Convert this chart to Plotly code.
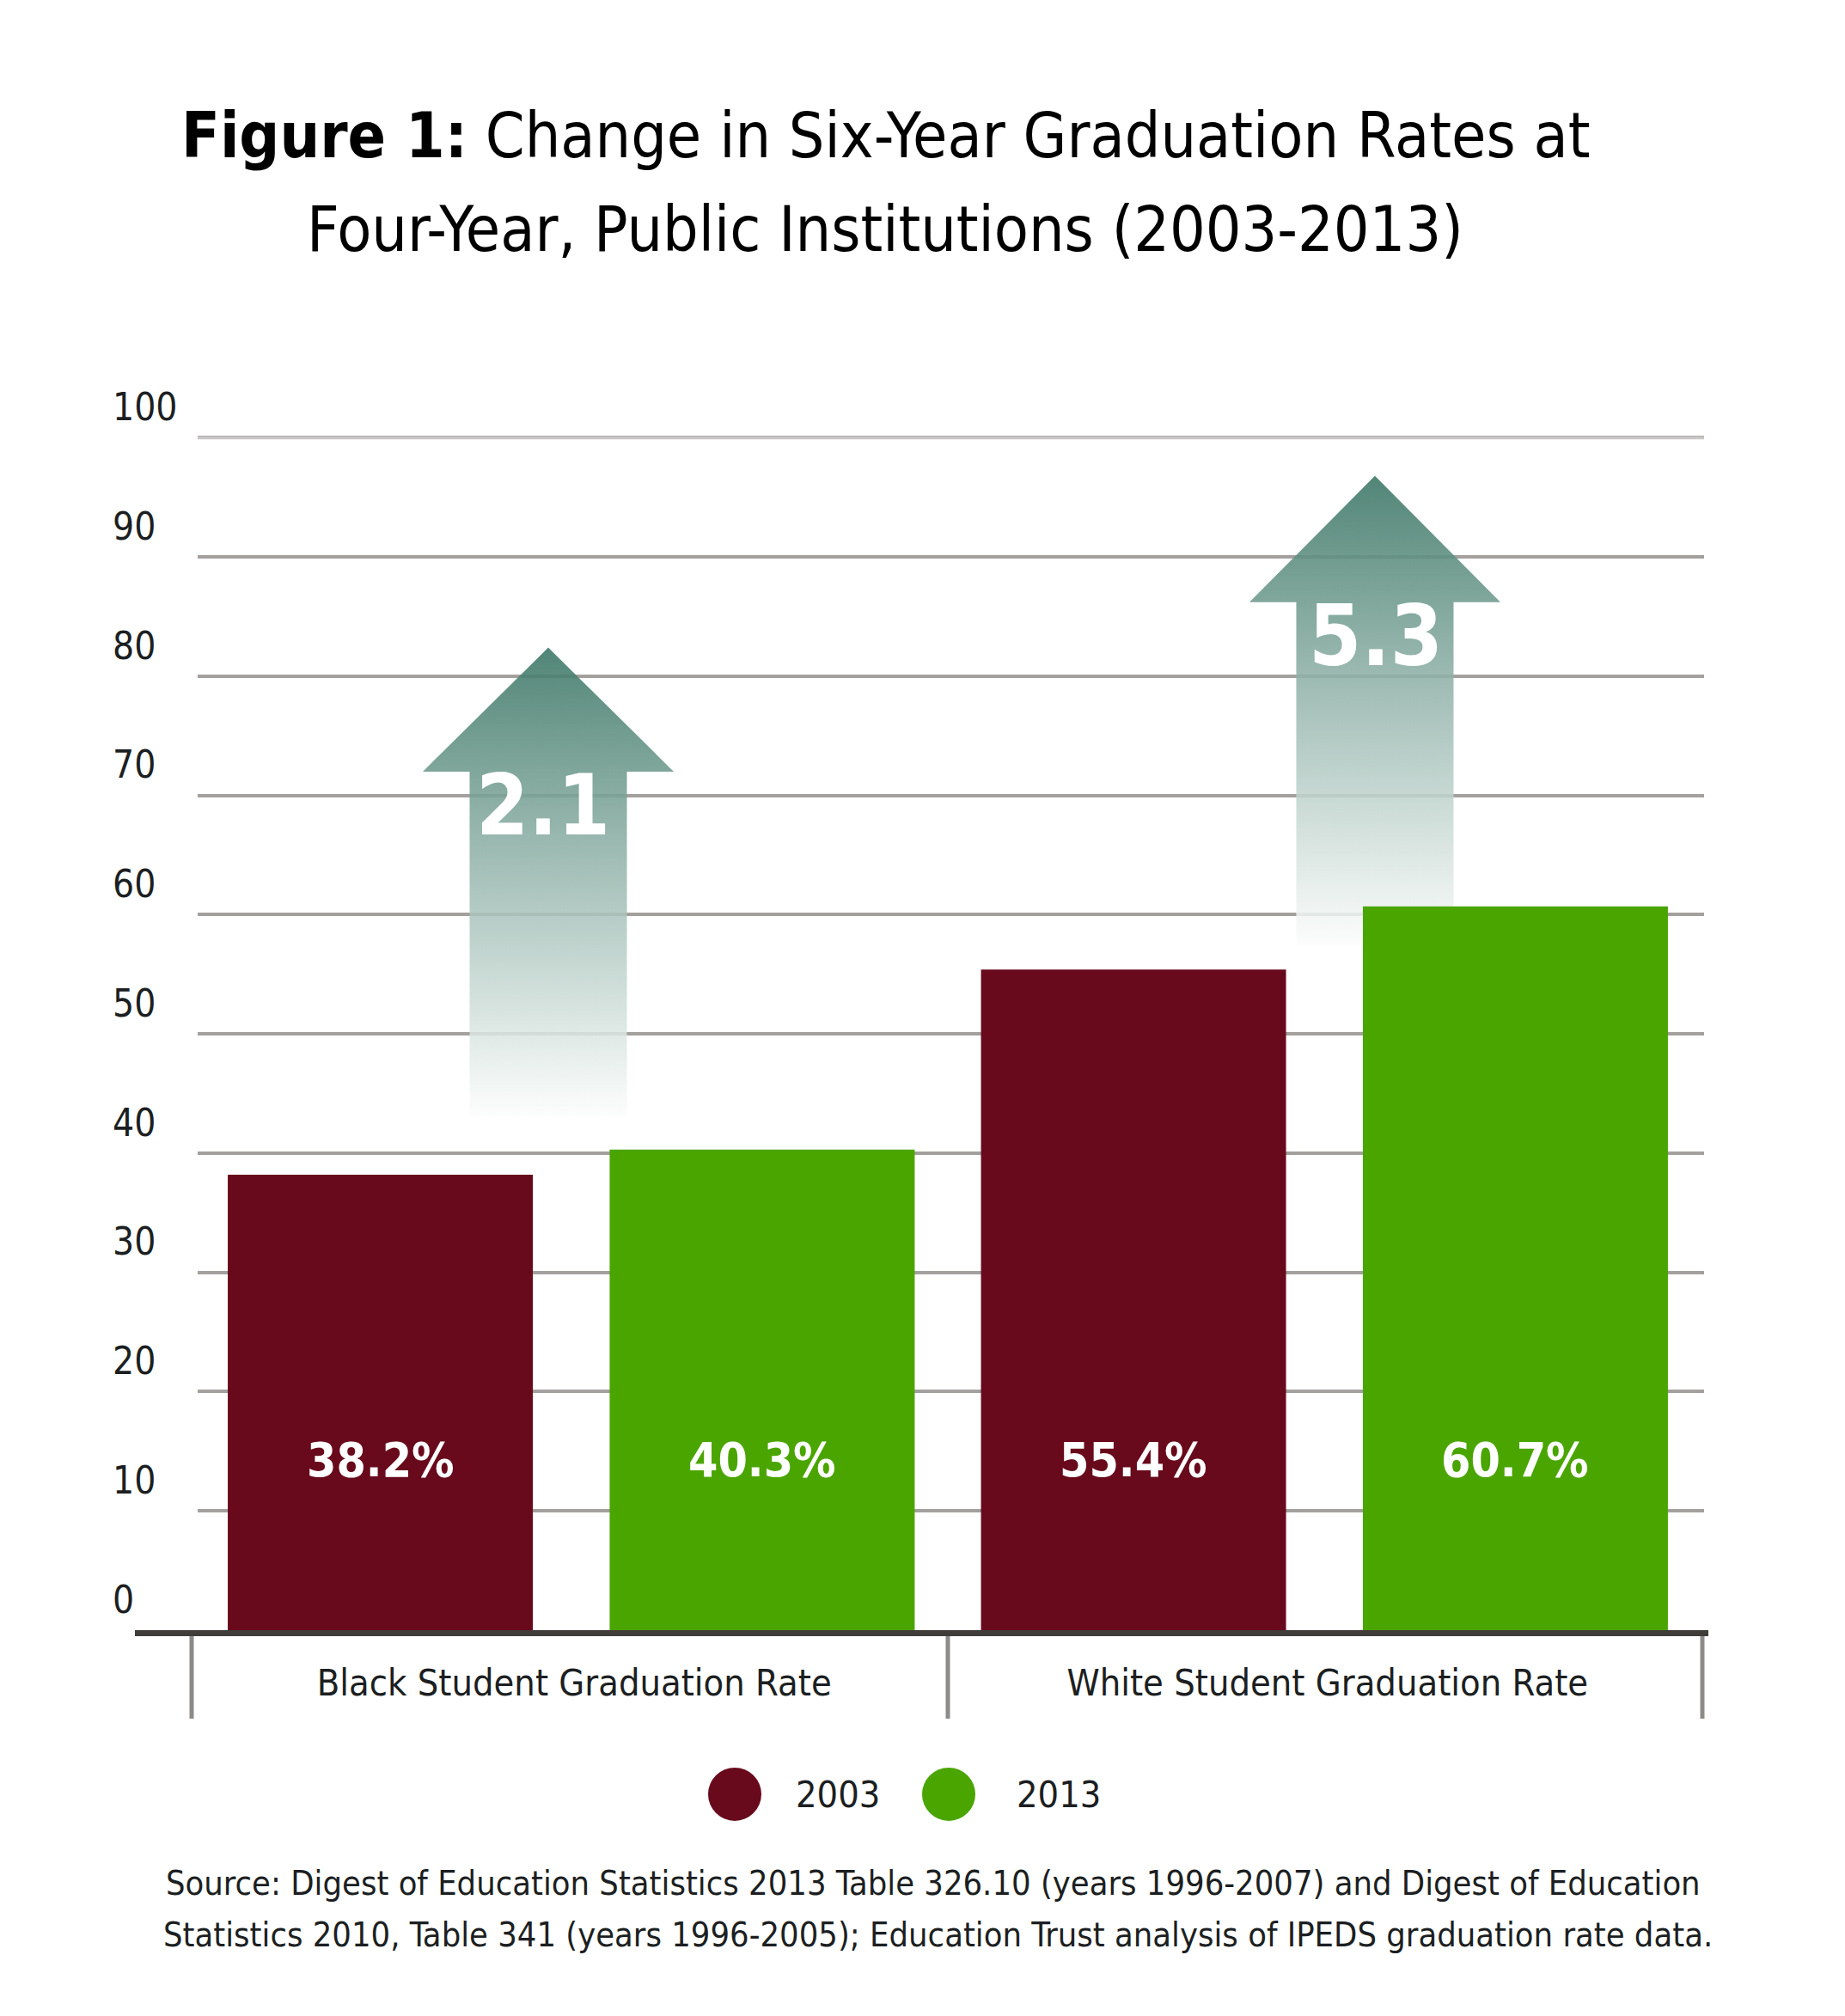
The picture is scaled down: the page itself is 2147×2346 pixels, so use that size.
import plotly.graph_objects as go

# ---------------- data ----------------
categories = ["Black Student Graduation Rate", "White Student Graduation Rate"]
years = ["2003", "2013"]
rate_2003 = [38.2, 55.4]
rate_2013 = [40.3, 60.7]
y_ticks = [0, 10, 20, 30, 40, 50, 60, 70, 80, 90, 100]

# decorative change arrows (x centre in category units, y in axis units)
arrow_x = [-0.0345, 1.063]
arrow_tip = [82.4, 96.8]
arrow_head_base = [72.0, 86.2]
arrow_bottom = [43.1, 57.3]
arrow_label_pos = [(-0.041, 69.2), (1.064, 83.4)]

title_l1 = "<b>Figure 1:</b> Change in Six-Year Graduation Rates at"
title_l2 = "Four-Year, Public Institutions (2003-2013)"
source_l1 = "Source: Digest of Education Statistics 2013 Table 326.10 (years 1996-2007) and Digest of Education"
source_l2 = "Statistics 2010, Table 341 (years 1996-2005); Education Trust analysis of IPEDS graduation rate data."

# ---------------- style / geometry ----------------
C03 = "#680a1c"
C13 = "#4aa500"
FONT = "Liberation Sans Narrow, DejaVu Sans Condensed, Arial Narrow, sans-serif"
TXT = "#1c1f22"
OFF = 8                      # page body margin
FW, FH = 2131, 2330
Y_TOP = 105                  # axis range top (room for the "100" label)
PAGE_Y0, PAGE_Y100 = 1897, 509
UNIT = (PAGE_Y0 - PAGE_Y100) / 100.0
PAGE_LEFT, PAGE_RIGHT = 127, 1983
PLOT_LEFT = 230
L = PAGE_LEFT - OFF
R = FW - (PAGE_RIGHT - OFF)
B = FH - (PAGE_Y0 - OFF)
T = (PAGE_Y100 - (Y_TOP - 100) * UNIT) - OFF
PW, PH = FW - L - R, FH - T - B


def px2x(px):
    return (px - OFF - L) / PW


def py2y(py):
    return (FH - B - (py - OFF)) / PH


BAR_W = 0.405
OFF03, OFF13 = -0.46, 0.047
HEAD_HW, SHAFT_HW = 0.1666, 0.1044

fig = go.Figure()

# arrows (main subplot, under the bars)
for i in range(len(arrow_x)):
    cx = arrow_x[i]
    xs = [cx, cx + HEAD_HW, cx + SHAFT_HW, cx + SHAFT_HW, cx - SHAFT_HW, cx - SHAFT_HW, cx - HEAD_HW, cx]
    ys = [arrow_tip[i], arrow_head_base[i], arrow_head_base[i], arrow_bottom[i],
          arrow_bottom[i], arrow_head_base[i], arrow_head_base[i], arrow_tip[i]]
    fig.add_trace(go.Scatter(
        x=xs, y=ys, mode="lines", fill="toself",
        line=dict(width=0, color="rgba(0,0,0,0)"),
        fillgradient=dict(type="vertical",
                          colorscale=[[0, "rgba(252,253,252,0.85)"],
                                      [1, "rgba(62,120,104,0.9)"]],
                          start=arrow_bottom[i], stop=arrow_tip[i]),
        hoverinfo="skip", showlegend=False))

xs_idx = list(range(len(categories)))
fig.add_trace(go.Bar(x=xs_idx, y=rate_2003, width=BAR_W, offset=OFF03, xaxis="x2", yaxis="y2",
                     marker=dict(color=C03, line=dict(width=0)), name=years[0], showlegend=False))
fig.add_trace(go.Bar(x=xs_idx, y=rate_2013, width=BAR_W, offset=OFF13, xaxis="x2", yaxis="y2",
                     marker=dict(color=C13, line=dict(width=0)), name=years[1], showlegend=False))

ann = []
for i in xs_idx:
    for vals, off in ((rate_2003, OFF03), (rate_2013, OFF13)):
        ann.append(dict(x=i + off + BAR_W / 2, y=14.3, xref="x", yref="y",
                        text=f"<b>{vals[i]:.1f}%</b>", showarrow=False,
                        font=dict(family=FONT, size=55, color="white")))
for i in xs_idx:
    ax, ay = arrow_label_pos[i]
    ann.append(dict(x=ax, y=ay, xref="x", yref="y",
                    text=f"<b>{rate_2013[i] - rate_2003[i]:.1f}</b>", showarrow=False,
                    font=dict(family=FONT, size=98, color="white")))


def pann(px, py, text, size, color=TXT, xanchor="center"):
    return dict(x=px2x(px), y=py2y(py), xref="paper", yref="paper", text=text,
                xanchor=xanchor, yanchor="middle", showarrow=False,
                font=dict(family=FONT, size=size, color=color))


ann.append(pann(1030, 157, title_l1, 73, "black"))
ann.append(pann(1030, 266, title_l2, 73, "black"))
ann.append(pann(924, 2088, years[0], 43, xanchor="left"))
ann.append(pann(1181, 2088, years[1], 43, xanchor="left"))
ann.append(pann(1086, 2191, source_l1, 39.5))
ann.append(pann(1091, 2251, source_l2, 39.5))

shapes = []
shapes.append(dict(type="line", xref="x", yref="y", x0=-0.5, x1=1.5, y0=100, y1=100,
                   line=dict(color="#c9c7c5", width=3.5), layer="between"))
shapes.append(dict(type="line", xref="paper", yref="paper", x0=px2x(157), x1=px2x(1988),
                   y0=py2y(1900.5), y1=py2y(1900.5), line=dict(color="#403c39", width=7)))
for tx in (223, 1103, 1981):
    shapes.append(dict(type="line", xref="paper", yref="paper", x0=px2x(tx), x1=px2x(tx),
                       y0=py2y(1904), y1=py2y(2000), line=dict(color="#8d8b89", width=5)))
for cx, col in ((855, C03), (1104, C13)):
    shapes.append(dict(type="circle", xref="paper", yref="paper",
                       x0=px2x(cx - 31), x1=px2x(cx + 31), y0=py2y(2119), y1=py2y(2057),
                       fillcolor=col, line=dict(width=0)))

xdom = [px2x(PLOT_LEFT), 1]
fig.update_layout(
    template="none",
    width=FW, height=FH,
    margin=dict(l=L, r=R, t=T, b=B, autoexpand=False),
    paper_bgcolor="white", plot_bgcolor="white",
    barmode="overlay",
    showlegend=False,
    annotations=ann,
    shapes=shapes,
    xaxis=dict(domain=xdom, range=[-0.5, 1.5], tickvals=xs_idx, ticktext=categories,
               showgrid=False, zeroline=False, showline=False, automargin=False,
               ticks="outside", ticklen=23, tickcolor="rgba(0,0,0,0)",
               tickfont=dict(family=FONT, size=43, color=TXT), fixedrange=True),
    yaxis=dict(range=[0, Y_TOP], tickvals=y_ticks, anchor="free", position=0, automargin=False,
               ticklabelposition="inside top", showgrid=True, gridcolor="#a3a09e", gridwidth=3.5,
               zeroline=False, showline=False, ticks="", ticklabelshift=-5,
               tickfont=dict(family=FONT, size=44, color=TXT), fixedrange=True),
    xaxis2=dict(domain=xdom, range=[-0.5, 1.5], overlaying="x", visible=False, fixedrange=True),
    yaxis2=dict(range=[0, Y_TOP], overlaying="y", anchor="x2", visible=False, fixedrange=True),
)

fig.write_html("out.html")
